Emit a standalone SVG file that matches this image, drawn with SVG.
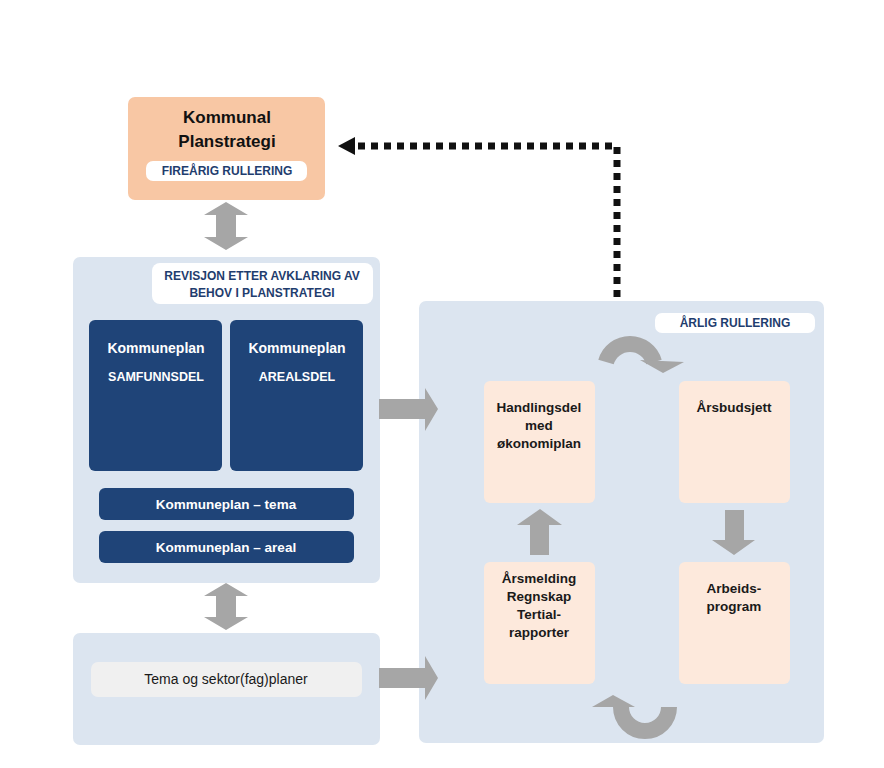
<svg xmlns="http://www.w3.org/2000/svg" width="884" height="768" viewBox="0 0 884 768">
<defs>
<style>
.panel{fill:#dce5f0}
.dark{fill:#1f4478}
.peach{fill:#fde9dc}
.pill{fill:#ffffff}
.arr{fill:#a6a6a6}
.cap{font-family:"Liberation Sans Narrow","Liberation Sans",Arial,sans-serif;font-weight:bold;font-size:12px;fill:#1f3d6e;text-anchor:middle}
.wt{font-family:"Liberation Sans",Arial,sans-serif;font-weight:bold;font-size:14px;fill:#ffffff;text-anchor:middle}
.bk{font-family:"Liberation Sans",Arial,sans-serif;font-weight:bold;font-size:13.5px;fill:#1a1a1a;text-anchor:middle}
.big{font-family:"Liberation Sans",Arial,sans-serif;font-weight:bold;font-size:17px;fill:#111111;text-anchor:middle}
</style>
</defs>
<rect width="884" height="768" fill="#ffffff"/>

<g id="planstrategi">
<rect x="128" y="97" width="197" height="103" rx="7" fill="#f8c7a4"/>
<text class="big" x="227" y="123">Kommunal</text>
<text class="big" x="227" y="147">Planstrategi</text>
<rect class="pill" x="146" y="161" width="161" height="20" rx="7"/>
<text class="cap" x="227" y="175">FIREÅRIG RULLERING</text>
</g>

<g id="kommuneplan">
<rect class="panel" x="73" y="257" width="307" height="326" rx="7"/>
<rect class="pill" x="152" y="263" width="221" height="41" rx="8"/>
<text class="cap" x="262" y="280">REVISJON ETTER AVKLARING AV</text>
<text class="cap" x="262" y="297">BEHOV I PLANSTRATEGI</text>
</g>

<g id="samfunnsdel">
<rect class="dark" x="89" y="320" width="133" height="151" rx="6"/>
<text class="wt" x="156" y="353">Kommuneplan</text>
<text class="wt" x="156" y="381" style="font-size:12.5px">SAMFUNNSDEL</text>
</g>

<g id="arealsdel">
<rect class="dark" x="230" y="320" width="133" height="151" rx="6"/>
<text class="wt" x="297" y="353">Kommuneplan</text>
<text class="wt" x="297" y="381" style="font-size:12.5px">AREALSDEL</text>
</g>

<g id="tema">
<rect class="dark" x="99" y="488" width="255" height="32" rx="6"/>
<text class="wt" x="226" y="509" style="font-size:13.5px">Kommuneplan – tema</text>
</g>

<g id="areal">
<rect class="dark" x="99" y="531" width="255" height="32" rx="6"/>
<text class="wt" x="226" y="552" style="font-size:13.5px">Kommuneplan – areal</text>
</g>

<g id="sektorplaner">
<rect class="panel" x="73" y="633" width="307" height="112" rx="7"/>
<rect x="91" y="662" width="271" height="35" rx="7" fill="#f0f0f0"/>
<text class="bk" x="226" y="684" style="font-weight:normal;font-size:14px">Tema og sektor(fag)planer</text>
</g>

<g id="arlig">
<rect class="panel" x="419" y="301" width="405" height="442" rx="7"/>
<rect class="pill" x="655" y="313" width="160" height="20" rx="7"/>
<text class="cap" x="735" y="327">ÅRLIG RULLERING</text>
</g>

<g id="handlingsdel">
<rect class="peach" x="484" y="381" width="111" height="122" rx="6"/>
<text class="bk" x="539" y="412">Handlingsdel</text>
<text class="bk" x="539" y="430">med</text>
<text class="bk" x="539" y="448">økonomiplan</text>
</g>

<g id="arsbudsjett">
<rect class="peach" x="679" y="381" width="111" height="122" rx="6"/>
<text class="bk" x="734" y="412">Årsbudsjett</text>
</g>

<g id="arsmelding">
<rect class="peach" x="484" y="562" width="111" height="122" rx="6"/>
<text class="bk" x="539" y="583">Årsmelding</text>
<text class="bk" x="539" y="601">Regnskap</text>
<text class="bk" x="539" y="619">Tertial-</text>
<text class="bk" x="539" y="637">rapporter</text>
</g>

<g id="arbeidsprogram">
<rect class="peach" x="679" y="562" width="111" height="122" rx="6"/>
<text class="bk" x="734" y="593">Arbeids-</text>
<text class="bk" x="734" y="611">program</text>
</g>

<g id="connectors">
<polygon class="arr" points="226,202 248,215 236,215 236,237 248,237 226,250 204,237 216,237 216,215 204,215"/>
<polygon class="arr" points="226,583 248,596 236,596 236,617 248,617 226,630 204,617 216,617 216,596 204,596"/>
<polygon class="arr" points="379,399 425,399 425,388 438,409 425,431 425,419 379,419"/>
<polygon class="arr" points="379,668 425,668 425,656 438,678 425,700 425,688 379,688"/>
<polygon class="arr" points="530,555 530,525 517,525 540,509 562,525 549,525 549,555"/>
<polygon class="arr" points="725,510 744,510 744,540 755,540 734,555 712,540 725,540"/>
<path d="M606,362 A25,25 0 0 1 654,362" fill="none" stroke="#a6a6a6" stroke-width="16"/>
<polygon class="arr" points="640,360 684,362 663,373"/>
<path d="M621,707 A24,24 0 0 0 669,707" fill="none" stroke="#a6a6a6" stroke-width="16"/>
<polygon class="arr" points="592,707 613,695 635,707"/>
<polyline points="617,297 617,146 355,146" fill="none" stroke="#111111" stroke-width="7" stroke-dasharray="7 6"/>
<polygon points="338,146 355,137 355,155" fill="#111111"/>
</g>
</svg>
